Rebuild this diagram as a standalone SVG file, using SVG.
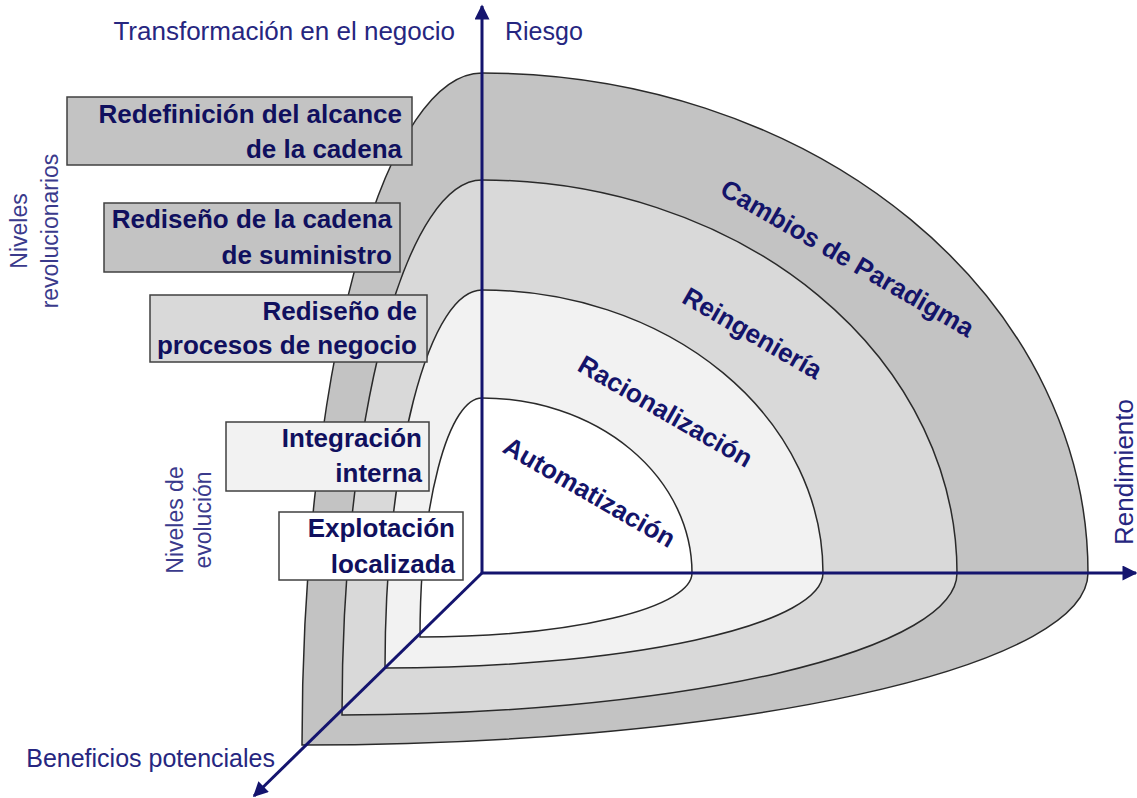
<svg xmlns="http://www.w3.org/2000/svg" width="1137" height="798" viewBox="0 0 1137 798">
<defs>
<style>
.band{stroke:#2a2a2a;stroke-width:1.5}
.box{stroke:#404040;stroke-width:1.5}
.bt{font-family:"Liberation Sans",Arial,sans-serif;font-weight:bold;font-size:26px;fill:#10105e;text-anchor:end}
.lbl{font-family:"Liberation Sans",Arial,sans-serif;font-weight:bold;font-size:26px;fill:#14146a;text-anchor:middle}
.ax{font-family:"Liberation Sans",Arial,sans-serif;font-size:25px;fill:#262680}
.side{font-family:"Liberation Sans",Arial,sans-serif;font-size:23px;fill:#3a3a8c;text-anchor:middle}
.axis{stroke:#14146e;stroke-width:3;fill:none}
</style>
<marker id="arr" viewBox="0 0 10 10" refX="9" refY="5" markerWidth="5.5" markerHeight="5" orient="auto" markerUnits="strokeWidth">
<path d="M0,0 L10,5 L0,10 z" fill="#14146e"/>
</marker>
</defs>
<rect width="1137" height="798" fill="#ffffff"/>
<g id="bands">
<path id="band-paradigma" class="band" fill="#c3c3c3" d="M 302 745 A 180 672 0 0 1 482 73 A 606 500 0 0 1 1088 573 A 786 172 0 0 1 302 745 Z"/>
<path id="band-reingenieria" class="band" fill="#d9d9d9" d="M 342 715 A 140 535 0 0 1 482 180 A 475 393 0 0 1 957 573 A 615 142 0 0 1 342 715 Z"/>
<path id="band-racionalizacion" class="band" fill="#f2f2f2" d="M 385 668 A 97 378 0 0 1 482 290 A 341 283 0 0 1 823 573 A 438 95 0 0 1 385 668 Z"/>
<path id="band-automatizacion" class="band" fill="#ffffff" d="M 420 637 A 62 239 0 0 1 482 398 A 210 175 0 0 1 692 573 A 272 64 0 0 1 420 637 Z"/>
</g>
<g id="band-labels">
<text class="lbl" transform="translate(843,266) rotate(30)">Cambios de Paradigma</text>
<text class="lbl" transform="translate(748,341) rotate(30)">Reingeniería</text>
<text class="lbl" transform="translate(661,419) rotate(30)">Racionalización</text>
<text class="lbl" transform="translate(585,500) rotate(30)">Automatización</text>
</g>
<g id="connectors">
<line class="axis" x1="482" y1="573" x2="482" y2="6" marker-end="url(#arr)"/>
<line class="axis" x1="482" y1="573" x2="1136" y2="573" marker-end="url(#arr)"/>
<line class="axis" x1="482" y1="573" x2="254" y2="796" marker-end="url(#arr)"/>
</g>
<g id="box-redefinicion">
<rect class="box" x="67" y="97" width="345" height="68" fill="#c3c3c3"/>
<text class="bt" x="402" y="123">Redefinición del alcance</text>
<text class="bt" x="402" y="158">de la cadena</text>
</g>
<g id="box-rediseno-cadena">
<rect class="box" x="104" y="203" width="296" height="69" fill="#c3c3c3"/>
<text class="bt" x="392" y="228">Rediseño de la cadena</text>
<text class="bt" x="392" y="264">de suministro</text>
</g>
<g id="box-rediseno-procesos">
<rect class="box" x="150" y="295" width="277" height="67" fill="#d9d9d9"/>
<text class="bt" x="417" y="320">Rediseño de</text>
<text class="bt" x="417" y="354">procesos de negocio</text>
</g>
<g id="box-integracion">
<rect class="box" x="226" y="422" width="203" height="69" fill="#f2f2f2"/>
<text class="bt" x="422" y="447">Integración</text>
<text class="bt" x="422" y="482">interna</text>
</g>
<g id="box-explotacion">
<rect class="box" x="279" y="512" width="184" height="68" fill="#ffffff"/>
<text class="bt" x="455" y="537">Explotación</text>
<text class="bt" x="455" y="573">localizada</text>
</g>
<g id="axis-labels">
<text class="ax" x="455" y="40" text-anchor="end" style="font-size:26px">Transformación en el negocio</text>
<text class="ax" x="505" y="40">Riesgo</text>
<text class="ax" x="275" y="767" text-anchor="end">Beneficios potenciales</text>
<text class="ax" transform="translate(1133,472) rotate(-90)" text-anchor="middle" style="font-size:26px">Rendimiento</text>
</g>
<g id="side-labels">
<text class="side" transform="translate(27,231) rotate(-90)">Niveles</text>
<text class="side" transform="translate(58,231) rotate(-90)">revolucionarios</text>
<text class="side" transform="translate(183,520) rotate(-90)">Niveles de</text>
<text class="side" transform="translate(211,520) rotate(-90)">evolución</text>
</g>
</svg>
